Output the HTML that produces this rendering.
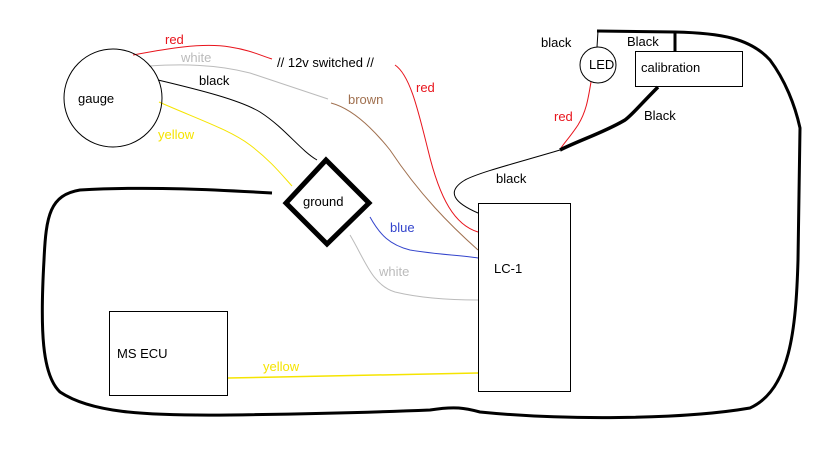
<!DOCTYPE html>
<html><head><style>
html,body{margin:0;padding:0;background:#fff;}
svg{display:block;}
text{font-family:"Liberation Sans",sans-serif;font-size:13px;}
</style></head><body>
<svg width="819" height="460" viewBox="0 0 819 460" xmlns="http://www.w3.org/2000/svg">
<g fill="none">
<!-- big loop -->
<path d="M272,193 C220,190 150,186 80,190 C50,195 46,215 44,260 C40,330 42,375 60,392 C90,412 140,416 230,415 C300,414 380,412 430,410 C455,406 465,408 480,412 C560,420 680,420 750,408 C790,390 796,330 798,260 L800,128 C795,105 785,80 770,60 C750,38 720,33 675,32 L597,31" stroke="#000" stroke-width="3"/>
<line x1="675" y1="31" x2="675" y2="51" stroke="#000" stroke-width="3"/>
<!-- gauge wires -->
<path d="M133,55 C160,50 200,42 230,47 C250,50 262,56 272,59" stroke="#e8141c" stroke-width="1"/>
<path d="M395,65 C410,75 418,110 428,150 C440,200 455,225 478,232" stroke="#e8141c" stroke-width="1"/>
<path d="M149,66 C180,64 215,64 250,73 L328,99" stroke="#bbb" stroke-width="1"/>
<path d="M331,103 C350,108 370,125 390,150 C420,195 450,225 478,250" stroke="#a0704f" stroke-width="1"/>
<path d="M158,80 C200,90 240,100 260,112 C285,128 300,150 317,160" stroke="#000" stroke-width="1"/>
<path d="M159,102 C200,120 230,130 250,145 C270,160 282,175 292,186" stroke="#f5e400" stroke-width="1"/>
<path d="M370,217 C380,235 390,245 410,250 C440,255 460,255 478,258" stroke="#3344cc" stroke-width="1"/>
<path d="M350,235 C365,260 372,285 395,292 C420,298 450,300 478,300" stroke="#bbb" stroke-width="1"/>
<path d="M228,378 L478,373" stroke="#f5e400" stroke-width="1.5"/>
<!-- ground diamond -->
<polygon points="326,160 369,203 327,244 286,203" stroke="#000" stroke-width="5"/>
<!-- boxes -->
<rect x="478.5" y="203.5" width="92" height="188" stroke="#000" stroke-width="1"/>
<rect x="109.5" y="311.5" width="118" height="84" stroke="#000" stroke-width="1"/>
<rect x="635.5" y="51.5" width="107" height="35" stroke="#000" stroke-width="1"/>
<circle cx="113" cy="98" r="49" stroke="#000" stroke-width="1"/>
<circle cx="598" cy="65" r="18" stroke="#000" stroke-width="1"/>
<line x1="598" y1="31" x2="597" y2="47" stroke="#000" stroke-width="1"/>
<!-- LED/calibration wires -->
<path d="M591,82 C588,100 586,112 578,125 C570,137 565,142 561,148" stroke="#e8141c" stroke-width="1"/>
<path d="M658,87 C640,105 632,115 625,120 C605,132 580,140 560,150" stroke="#000" stroke-width="3.5"/>
<path d="M560,150 C520,162 480,172 465,180 C445,192 455,203 478,213" stroke="#000" stroke-width="1"/>
</g>
<text x="165" y="44" fill="#e8141c">red</text>
<text x="181" y="62" fill="#bbb">white</text>
<text x="199" y="85" fill="#000">black</text>
<text x="158" y="139" fill="#f5e400">yellow</text>
<text x="277" y="67" fill="#000">// 12v switched //</text>
<text x="416" y="92" fill="#e8141c">red</text>
<text x="348" y="104" fill="#a0704f">brown</text>
<text x="78" y="103" fill="#000">gauge</text>
<text x="303" y="206" fill="#000">ground</text>
<text x="390" y="232" fill="#3344cc">blue</text>
<text x="379" y="276" fill="#bbb">white</text>
<text x="494" y="273" fill="#000">LC-1</text>
<text x="117" y="358" fill="#000">MS ECU</text>
<text x="263" y="371" fill="#f5e400">yellow</text>
<text x="541" y="47" fill="#000">black</text>
<text x="627" y="46" fill="#000">Black</text>
<text x="589" y="69" fill="#000" font-size="12">LED</text>
<text x="641" y="72" fill="#000">calibration</text>
<text x="644" y="120" fill="#000">Black</text>
<text x="554" y="121" fill="#e8141c">red</text>
<text x="496" y="183" fill="#000">black</text>
</svg>
</body></html>
